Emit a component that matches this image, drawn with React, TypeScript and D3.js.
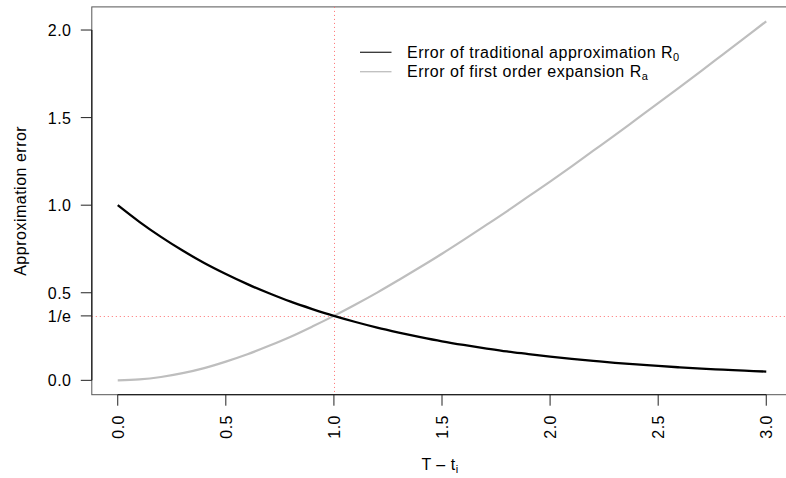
import React from "react";
import * as d3 from "d3";

// Time to maturity (T - t_i)
const tValues = [
  0.0, 0.1, 0.2, 0.3, 0.4, 0.5, 0.6, 0.7, 0.8, 0.9, 1.0,
  1.1, 1.2, 1.3, 1.4, 1.5, 1.6, 1.7, 1.8, 1.9, 2.0,
  2.1, 2.2, 2.3, 2.4, 2.5, 2.6, 2.7, 2.8, 2.9, 3.0,
];

// Error of traditional approximation R0
const errorR0 = [
  1.0, 0.905, 0.819, 0.741, 0.670, 0.607, 0.549, 0.497, 0.449, 0.407, 0.368,
  0.333, 0.301, 0.273, 0.247, 0.223, 0.202, 0.183, 0.165, 0.150, 0.135,
  0.122, 0.111, 0.100, 0.091, 0.082, 0.074, 0.067, 0.061, 0.055, 0.050,
];

// Error of first order expansion Ra
const errorRa = [
  0.0, 0.005, 0.019, 0.041, 0.070, 0.107, 0.149, 0.197, 0.249, 0.307, 0.368,
  0.433, 0.501, 0.573, 0.647, 0.723, 0.802, 0.883, 0.965, 1.050, 1.135,
  1.222, 1.311, 1.400, 1.491, 1.582, 1.674, 1.767, 1.861, 1.955, 2.050,
];

const xTicks = [0, 0.5, 1, 1.5, 2, 2.5, 3];
const yTicks = [0, 0.5, 1, 1.5, 2];
const yTickLabels = ["0.0", "0.5", "1.0", "1.5", "2.0"];
const crossX = 1;
const crossY = 0.3679;
const crossYLabel = "1/e";

const W = 786;
const H = 478;
const FONT = "'Liberation Sans', Arial, Helvetica, sans-serif";

export default function App() {
  // Scales with 4% padding on each side of the data range
  const xDom = [-0.12, 3.12];
  const yDom = [-0.082, 2.132];
  const x = d3.scaleLinear().domain(xDom).range([91.8, 792.2]);
  const y = d3.scaleLinear().domain(yDom).range([394.7, 6.9]);

  const line = (vals: number[]) =>
    d3
      .line<number>()
      .x((_, i) => x(tValues[i]))
      .y((v) => y(v))
      .curve(d3.curveCatmullRom)(vals) || "";

  const left = x(xDom[0]);
  const right = x(xDom[1]);
  const top = y(yDom[1]);
  const bottom = y(yDom[0]);
  const fs = 16;
  const ls = 0.5;
  const vx = Math.round(x(crossX)) + 0.5;
  const hy = Math.round(y(crossY)) + 0.5;

  return (
    <svg
      width={W}
      height={H}
      style={{ position: "absolute", left: 0, top: 0, background: "#fff" }}
      fontFamily={FONT}
    >
      {/* plot frame */}
      <rect
        x={left}
        y={top}
        width={right - left}
        height={bottom - top}
        fill="none"
        stroke="#555"
        strokeWidth={1}
      />

      {/* reference lines at T - t_i = 1 and error = 1/e */}
      <line
        x1={vx}
        x2={vx}
        y1={top}
        y2={bottom}
        stroke="#ff7070"
        strokeWidth={1}
        strokeDasharray="1,3"
      />
      <line
        x1={left}
        x2={right}
        y1={hy}
        y2={hy}
        stroke="#ff7070"
        strokeWidth={1}
        strokeDasharray="1,3"
      />

      {/* curves */}
      <path d={line(errorRa)} fill="none" stroke="#bebebe" strokeWidth={2.2} />
      <path d={line(errorR0)} fill="none" stroke="#000" strokeWidth={2.3} />

      {/* y axis */}
      <line x1={left} x2={left} y1={y(0)} y2={y(2)} stroke="#222" strokeWidth={1.3} />
      {yTicks.map((t, i) => (
        <g key={"y" + t}>
          <line x1={left - 11} x2={left} y1={y(t)} y2={y(t)} stroke="#222" strokeWidth={1} />
          <text x={71.5} y={y(t) + 6} textAnchor="end" fontSize={fs} letterSpacing={ls} fill="#000">
            {yTickLabels[i]}
          </text>
        </g>
      ))}
      <line x1={left - 11} x2={left} y1={y(crossY)} y2={y(crossY)} stroke="#222" strokeWidth={1} />
      <text x={71.5} y={y(crossY) + 6} textAnchor="end" fontSize={fs} letterSpacing={ls} fill="#000">
        {crossYLabel}
      </text>

      {/* x axis */}
      <line x1={x(0)} x2={x(3)} y1={bottom} y2={bottom} stroke="#222" strokeWidth={1.3} />
      {xTicks.map((t) => (
        <g key={"x" + t}>
          <line x1={x(t)} x2={x(t)} y1={bottom} y2={bottom + 11} stroke="#222" strokeWidth={1} />
          <text
            transform={`translate(${x(t) + 6},415) rotate(-90)`}
            textAnchor="end"
            fontSize={fs}
            letterSpacing={ls}
            fill="#000"
          >
            {t.toFixed(1)}
          </text>
        </g>
      ))}

      {/* axis titles */}
      <text x={440} y={470} textAnchor="middle" fontSize={fs} letterSpacing={ls} fill="#000">
        T – t<tspan fontSize={11} dy={3}>i</tspan>
      </text>
      <text
        transform={`translate(25.5,${(top + bottom) / 2}) rotate(-90)`}
        textAnchor="middle"
        fontSize={fs}
        letterSpacing={ls}
        fill="#000"
      >
        Approximation error
      </text>

      {/* legend */}
      <line x1={360} x2={391.5} y1={52.3} y2={52.3} stroke="#333" strokeWidth={1.3} />
      <line x1={360} x2={391.5} y1={71.7} y2={71.7} stroke="#bebebe" strokeWidth={1.3} />
      <text x={407} y={57.8} fontSize={fs} letterSpacing={ls} fill="#000">
        Error of traditional approximation R<tspan fontSize={11} dy={3}>0</tspan>
      </text>
      <text x={407} y={77.2} fontSize={fs} letterSpacing={ls} fill="#000">
        Error of first order expansion R<tspan fontSize={11} dy={3}>a</tspan>
      </text>
    </svg>
  );
}
